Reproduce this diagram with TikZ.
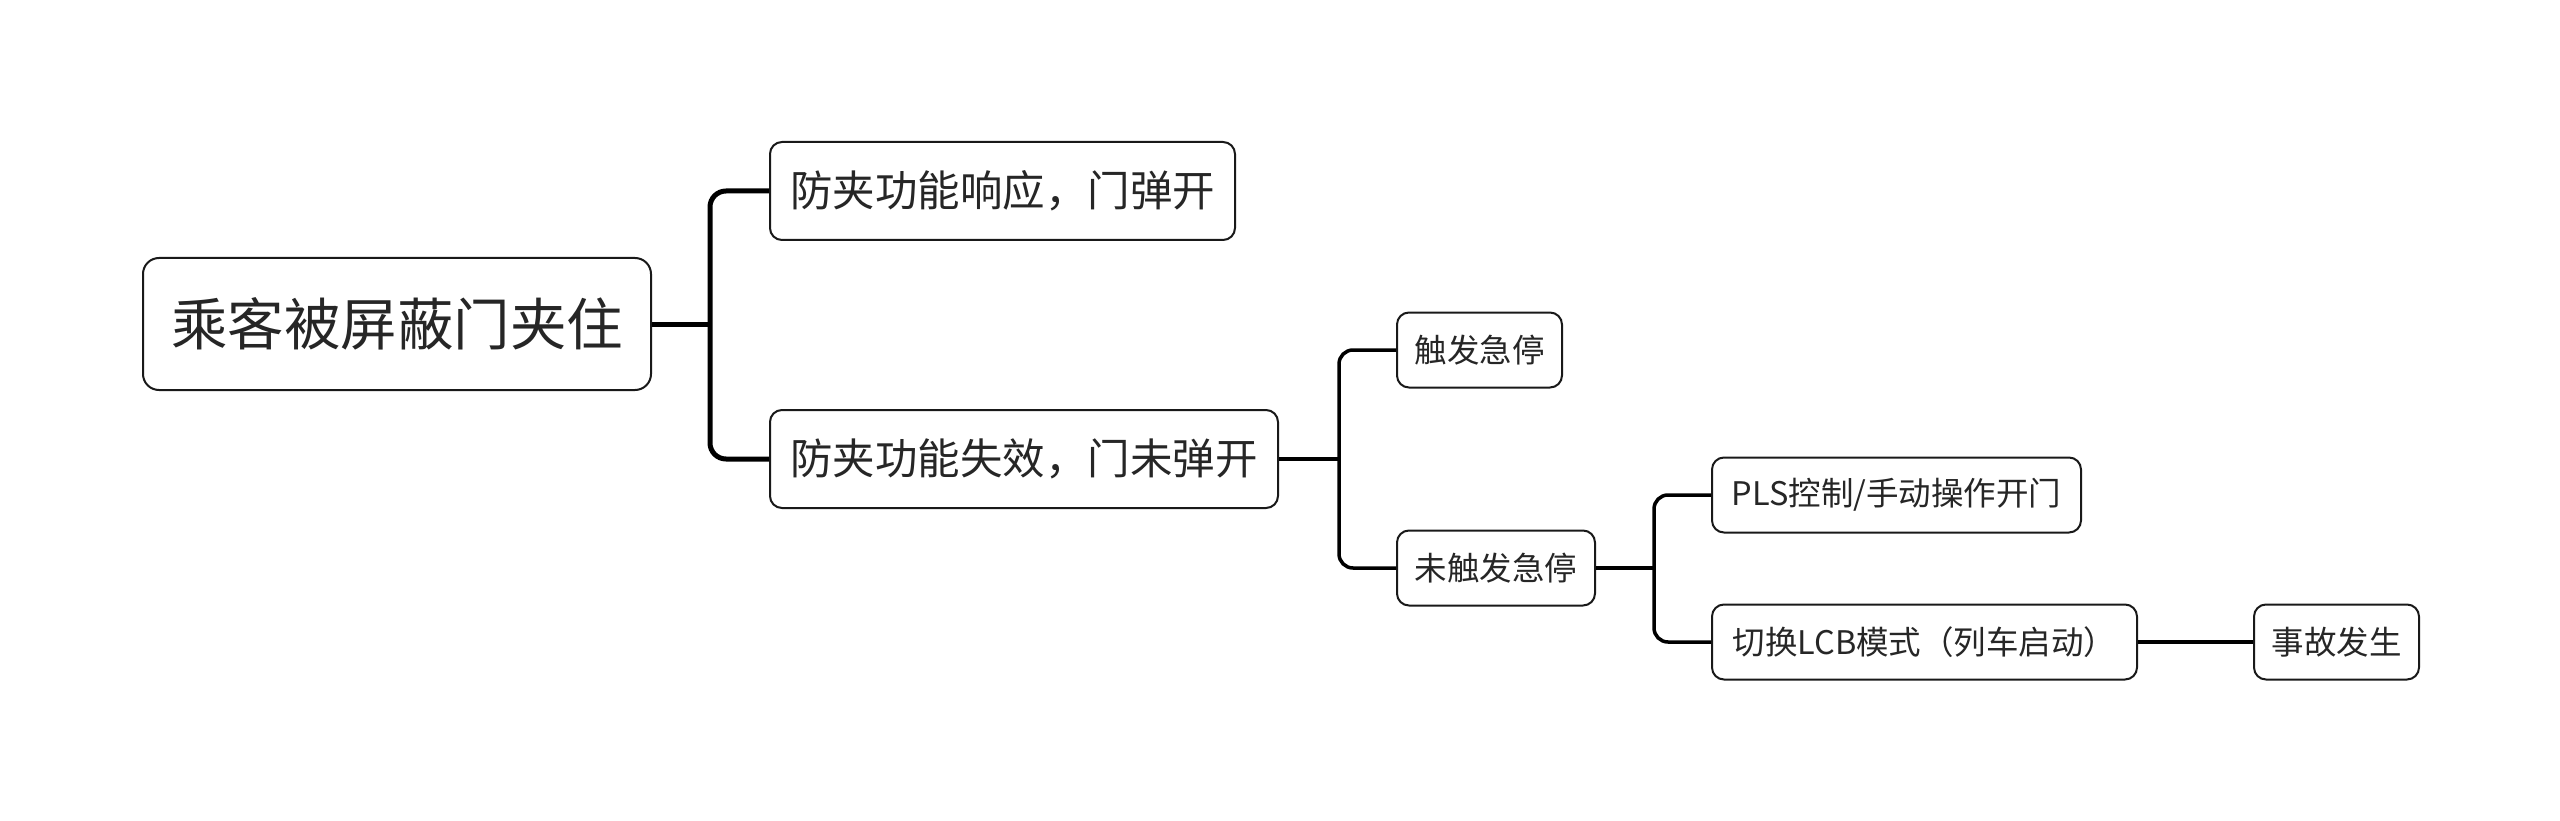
\documentclass[tikz,border=0pt]{standalone}
\usepackage{fontspec}
\newfontfamily\cjk{Noto Sans CJK SC}
\begin{document}
\begin{tikzpicture}[x=1pt,y=-1pt,
  box/.style={draw=black!90, line width=2pt, rounded corners=12pt, fill=white, text=black!85, anchor=west, inner ysep=0pt},
  rootbox/.style={box, rounded corners=16pt, minimum height=132pt, inner xsep=20pt, font=\cjk\fontsize{56.5}{60}\selectfont},
  lvone/.style={box, minimum height=98pt, inner xsep=14pt, font=\cjk\fontsize{42.5}{46}\selectfont},
  lvtwo/.style={box, minimum height=75pt, inner xsep=10pt, font=\cjk\fontsize{32.5}{36}\selectfont},
  biglink/.style={draw=black, line width=5pt, rounded corners=16pt},
  link/.style={draw=black, line width=3.5pt, rounded corners=14pt}
]
\useasboundingbox (0,0) rectangle (2560,821);
\node[rootbox, minimum width=508pt] (root) at (142,324) {乘客被屏蔽门夹住};
\node[lvone, minimum width=465pt] (a) at (769,191) {防夹功能响应，门弹开};
\node[lvone, minimum width=508pt] (b) at (769,459) {防夹功能失效，门未弹开};
\node[lvtwo, minimum width=165pt] (c) at (1396,350) {触发急停};
\node[lvtwo, minimum width=198pt] (d) at (1396,568) {未触发急停};
\node[lvtwo, minimum width=369pt] (e) at (1711,495) {PLS控制/手动操作开门};
\node[lvtwo, minimum width=425pt] (f) at (1711,642) {切换LCB模式（列车启动）};
\node[lvtwo, minimum width=165pt] (g) at (2253,642) {事故发生};
\coordinate (j1) at (710,324);
\coordinate (j2) at (1339,459);
\coordinate (j3) at (1654,568);
\draw[biglink] (root.east) -- (j1);
\draw[biglink] (a.west) -| (j1) |- (b.west);
\draw[link] (b.east) -- (j2);
\draw[link] (c.west) -| (j2) |- (d.west);
\draw[link] (d.east) -- (j3);
\draw[link] (e.west) -| (j3) |- (f.west);
\draw[link] (f.east) -- (g.west);
\end{tikzpicture}
\end{document}
